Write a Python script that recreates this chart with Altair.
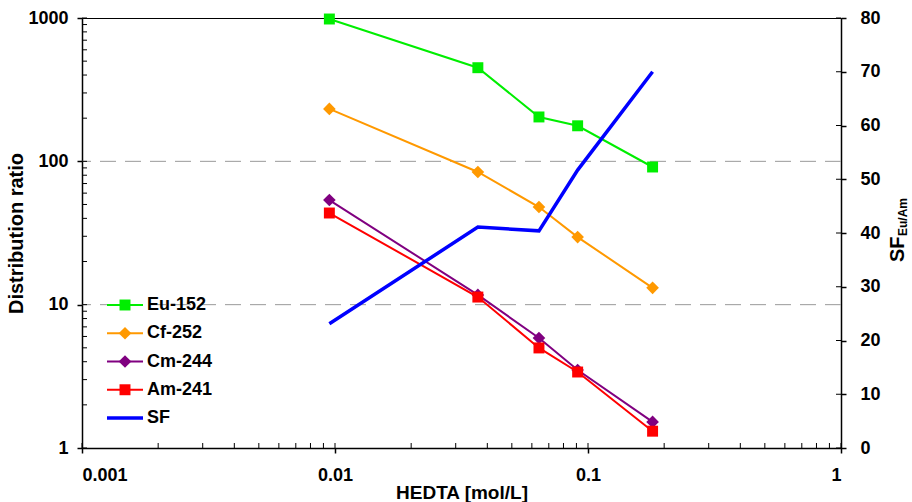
import altair as alt
import pandas as pd

# ---- data ----
hedta = [0.0095, 0.0367, 0.064, 0.091, 0.18]
eu152 = [984, 450, 204, 177, 91.3]
cf252 = [232, 84.3, 48, 29.6, 13.1]
cm244 = [53.7, 11.7, 5.85, 3.5, 1.52]
am241 = [43.6, 11.3, 4.99, 3.39, 1.31]
sf_values = [23.1, 41.1, 40.4, 51.7, 70.0]

series_names = ["Eu-152", "Cf-252", "Cm-244", "Am-241"]
series_values = [eu152, cf252, cm244, am241]
series_colors = ["#00EE00", "#FF9900", "#800080", "#FF0000"]
series_shapes = ["square", "diamond", "diamond", "square"]
series_sizes = [120, 160, 160, 120]
sf_name = "SF"
sf_color = "#0000FF"
legend_names = series_names + [sf_name]

x_ticks = [0.001, 0.01, 0.1, 1]
y_ticks = [1, 10, 100, 1000]
sf_ticks = [0, 10, 20, 30, 40, 50, 60, 70, 80]
grid_values = [10, 100]
x_all_ticks = [m * d for d in [0.001, 0.01, 0.1] for m in range(1, 10)] + [1]
y_all_ticks = [m * d for d in [1, 10, 100] for m in range(1, 10)] + [1000]

W, H = 759, 430
FONT = "Liberation Sans"

xscale = alt.Scale(type="log", domain=[0.001, 1])
yscale = alt.Scale(type="log", domain=[1, 1000])
sfscale = alt.Scale(domain=[0, 80])
legscale = alt.Scale(type="point", domain=legend_names, range=[287, 400], padding=0)

layers = []

# grid lines
grid = alt.Chart(pd.DataFrame({"g": grid_values})).mark_rule(
    color="#999999", strokeWidth=1, strokeDash=[16, 9]
).encode(y=alt.Y("g:Q", scale=yscale, axis=None))
layers.append(grid)

# inner ticks
lt = alt.Chart(pd.DataFrame({"t": y_all_ticks})).mark_rule(color="black", strokeWidth=1).encode(
    y=alt.Y("t:Q", scale=yscale, axis=None), x=alt.value(0), x2=alt.value(5))
bt = alt.Chart(pd.DataFrame({"t": x_all_ticks})).mark_rule(color="black", strokeWidth=1).encode(
    x=alt.X("t:Q", scale=xscale, axis=None), y=alt.value(H), y2=alt.value(H - 5))
rt = alt.Chart(pd.DataFrame({"t": sf_ticks})).mark_rule(color="black", strokeWidth=1).encode(
    y=alt.Y("t:Q", scale=sfscale, axis=None), x=alt.value(W - 5), x2=alt.value(W))
layers += [lt, bt, rt]

for i, (name, vals, col, shp, sz) in enumerate(
        zip(series_names, series_values, series_colors, series_shapes, series_sizes)):
    df = pd.DataFrame({"x": hedta, "D": vals})
    if i == 0:
        xax = alt.Axis(values=x_ticks, format="~g", title="HEDTA [mol/L]", tickSize=5,
                       labelPadding=13, titleFontSize=19, titleBaseline="alphabetic", titleY=50,
                       domainWidth=1.5, tickWidth=1.5)
        yax = alt.Axis(values=y_ticks, format="~g", title="Distribution ratio", tickSize=5,
                       labelPadding=9, titlePadding=1, domainWidth=1.5, tickWidth=1.5)
    else:
        xax = None
        yax = None
    line = alt.Chart(df).mark_line(color=col, strokeWidth=2).encode(
        x=alt.X("x:Q", scale=xscale, axis=xax),
        y=alt.Y("D:Q", scale=yscale, axis=yax),
    )
    pts = alt.Chart(df).mark_point(color=col, filled=True, shape=shp, size=sz, opacity=1).encode(
        x=alt.X("x:Q", scale=xscale, axis=None),
        y=alt.Y("D:Q", scale=yscale, axis=None),
    )
    layers += [line, pts]

sf_df = pd.DataFrame({"x": hedta, "SF": sf_values})
sf_line = alt.Chart(sf_df).mark_line(color=sf_color, strokeWidth=3.5).encode(
    x=alt.X("x:Q", scale=xscale, axis=None),
    y=alt.Y("SF:Q", scale=sfscale,
            axis=alt.Axis(orient="right", values=sf_ticks, title=None, tickSize=5,
                          labelPadding=14, domainWidth=1.5, tickWidth=1.5)),
)
layers.append(sf_line)

# legend
for name, col, shp, sz in zip(series_names, series_colors, series_shapes, series_sizes):
    ldf = pd.DataFrame({"name": [name]})
    layers.append(alt.Chart(ldf).mark_rule(color=col, strokeWidth=2).encode(
        y=alt.Y("name:N", scale=legscale, axis=None), x=alt.value(25), x2=alt.value(61)))
    layers.append(alt.Chart(ldf).mark_point(color=col, filled=True, shape=shp, size=sz, opacity=1).encode(
        y=alt.Y("name:N", scale=legscale, axis=None), x=alt.value(43)))
ldf = pd.DataFrame({"name": [sf_name]})
layers.append(alt.Chart(ldf).mark_rule(color=sf_color, strokeWidth=3.5).encode(
    y=alt.Y("name:N", scale=legscale, axis=None), x=alt.value(25), x2=alt.value(61)))
ltext = alt.Chart(pd.DataFrame({"name": legend_names})).mark_text(
    align="left", baseline="middle", font=FONT, fontSize=18, fontWeight="bold", color="black"
).encode(y=alt.Y("name:N", scale=legscale, axis=None), x=alt.value(65), text="name:N")
layers.append(ltext)

# right axis title with subscript
t1 = alt.Chart(pd.DataFrame({"s": ["SF"]})).mark_text(
    angle=270, align="left", baseline="middle", font=FONT, fontSize=20, fontWeight="bold", color="black"
).encode(x=alt.value(816), y=alt.value(244), text="s:N")
t2 = alt.Chart(pd.DataFrame({"s": ["Eu/Am"]})).mark_text(
    angle=270, align="left", baseline="middle", font=FONT, fontSize=12, fontWeight="bold", color="black"
).encode(x=alt.value(821), y=alt.value(218), text="s:N")
layers += [t1, t2]

chart = alt.layer(*layers).resolve_scale(y="independent", x="independent").properties(
    width=W, height=H,
    padding={"left": 82, "top": 18, "right": 912 - 82 - W, "bottom": 502 - 18 - H},
    autosize=alt.AutoSizeParams(type="none"),
).configure_view(stroke="black", strokeWidth=1).configure_axis(
    labelFont=FONT, labelFontSize=18, labelFontWeight="bold", labelColor="black",
    titleFont=FONT, titleFontSize=20, titleFontWeight="bold", titleColor="black",
    domainColor="black", tickColor="black", grid=False,
)

chart.save("out.html", embed_options={"renderer": "svg", "actions": False})
